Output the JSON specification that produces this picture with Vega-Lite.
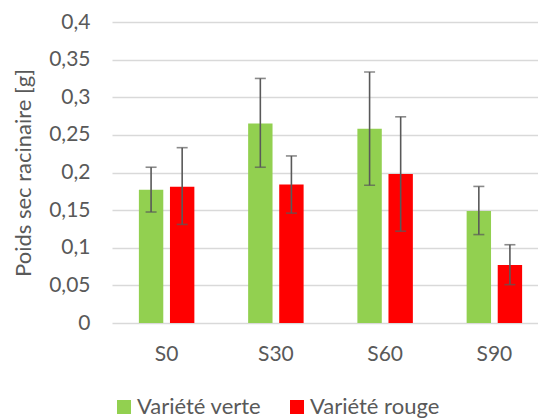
{
  "$schema": "https://vega.github.io/schema/vega-lite/v6.json",
  "width": 426,
  "height": 301,
  "autosize": {"type": "none"},
  "padding": {"left": 112, "top": 22, "right": 0, "bottom": 96},
  "background": "white",
  "data": {
    "values": [
      {"cat": "S0", "variety": "Variété verte", "value": 0.177, "lo": 0.1475, "hi": 0.207},
      {"cat": "S0", "variety": "Variété rouge", "value": 0.181, "lo": 0.131, "hi": 0.233},
      {"cat": "S30", "variety": "Variété verte", "value": 0.265, "lo": 0.207, "hi": 0.325},
      {"cat": "S30", "variety": "Variété rouge", "value": 0.184, "lo": 0.146, "hi": 0.222},
      {"cat": "S60", "variety": "Variété verte", "value": 0.258, "lo": 0.183, "hi": 0.3335},
      {"cat": "S60", "variety": "Variété rouge", "value": 0.198, "lo": 0.122, "hi": 0.274},
      {"cat": "S90", "variety": "Variété verte", "value": 0.149, "lo": 0.1175, "hi": 0.1815},
      {"cat": "S90", "variety": "Variété rouge", "value": 0.077, "lo": 0.051, "hi": 0.104}
    ]
  },
  "encoding": {
    "x": {
      "field": "cat", "type": "nominal", "sort": ["S0", "S30", "S60", "S90"],
      "scale": {"range": [0, 437], "paddingInner": 0, "paddingOuter": 0},
      "axis": {"title": null, "labelAngle": 0, "domain": false, "ticks": false, "labelPadding": 20, "labelFontSize": 21, "labelColor": "#595959", "labelFont": "Lato"}
    },
    "xOffset": {
      "field": "variety", "type": "nominal", "sort": ["Variété verte", "Variété rouge"],
      "scale": {"paddingInner": 0.215, "paddingOuter": 0.865}
    }
  },
  "layer": [
    {
      "mark": {"type": "bar"},
      "encoding": {
        "y": {
          "field": "value", "type": "quantitative",
          "scale": {"domain": [0, 0.4], "nice": false},
          "axis": {
            "title": "Poids sec racinaire [g]",
            "values": [0, 0.05, 0.1, 0.15, 0.2, 0.25, 0.3, 0.35, 0.4],
            "labelExpr": "replace(format(datum.value, '.2~f'), '.', ',')",
            "labelOverlap": false
          }
        },
        "color": {
          "field": "variety", "type": "nominal",
          "scale": {"domain": ["Variété verte", "Variété rouge"], "range": ["#92D050", "#FF0000"]},
          "legend": {
            "title": null, "orient": "none", "direction": "horizontal",
            "legendX": 1, "legendY": 374,
            "symbolType": "square", "symbolSize": 196, "symbolStrokeWidth": 0, "symbolOpacity": 1,
            "labelFontSize": 22, "labelFont": "Lato", "labelColor": "#595959", "labelOffset": 2,
            "columnPadding": 24, "labelLimit": 300
          }
        }
      }
    },
    {
      "mark": {"type": "rule", "color": "#595959", "strokeWidth": 1.6},
      "encoding": {
        "y": {"field": "lo", "type": "quantitative", "axis": {"title": "Poids sec racinaire [g]", "values": [0, 0.05, 0.1, 0.15, 0.2, 0.25, 0.3, 0.35, 0.4], "labelExpr": "replace(format(datum.value, '.2~f'), '.', ',')", "labelOverlap": false}},
        "y2": {"field": "hi"}
      }
    },
    {
      "mark": {"type": "tick", "color": "#595959", "thickness": 1.6, "size": 11},
      "encoding": {"y": {"field": "hi", "type": "quantitative", "axis": {"title": "Poids sec racinaire [g]", "values": [0, 0.05, 0.1, 0.15, 0.2, 0.25, 0.3, 0.35, 0.4], "labelExpr": "replace(format(datum.value, '.2~f'), '.', ',')", "labelOverlap": false}}}
    },
    {
      "mark": {"type": "tick", "color": "#595959", "thickness": 1.6, "size": 11},
      "encoding": {"y": {"field": "lo", "type": "quantitative", "axis": {"title": "Poids sec racinaire [g]", "values": [0, 0.05, 0.1, 0.15, 0.2, 0.25, 0.3, 0.35, 0.4], "labelExpr": "replace(format(datum.value, '.2~f'), '.', ',')", "labelOverlap": false}}}
    }
  ],
  "config": {
    "view": {"stroke": null},
    "axisY": {
      "titleFontSize": 22, "titleFont": "Lato", "titleFontWeight": "normal", "titleColor": "#595959", "titlePadding": 13,
      "labelOverlap": false,
      "labelFontSize": 21, "labelFont": "Lato", "labelColor": "#595959", "labelPadding": 22,
      "domain": false, "ticks": false,
      "grid": true, "gridColor": "#D9D9D9", "gridWidth": 1.3
    }
  }
}
